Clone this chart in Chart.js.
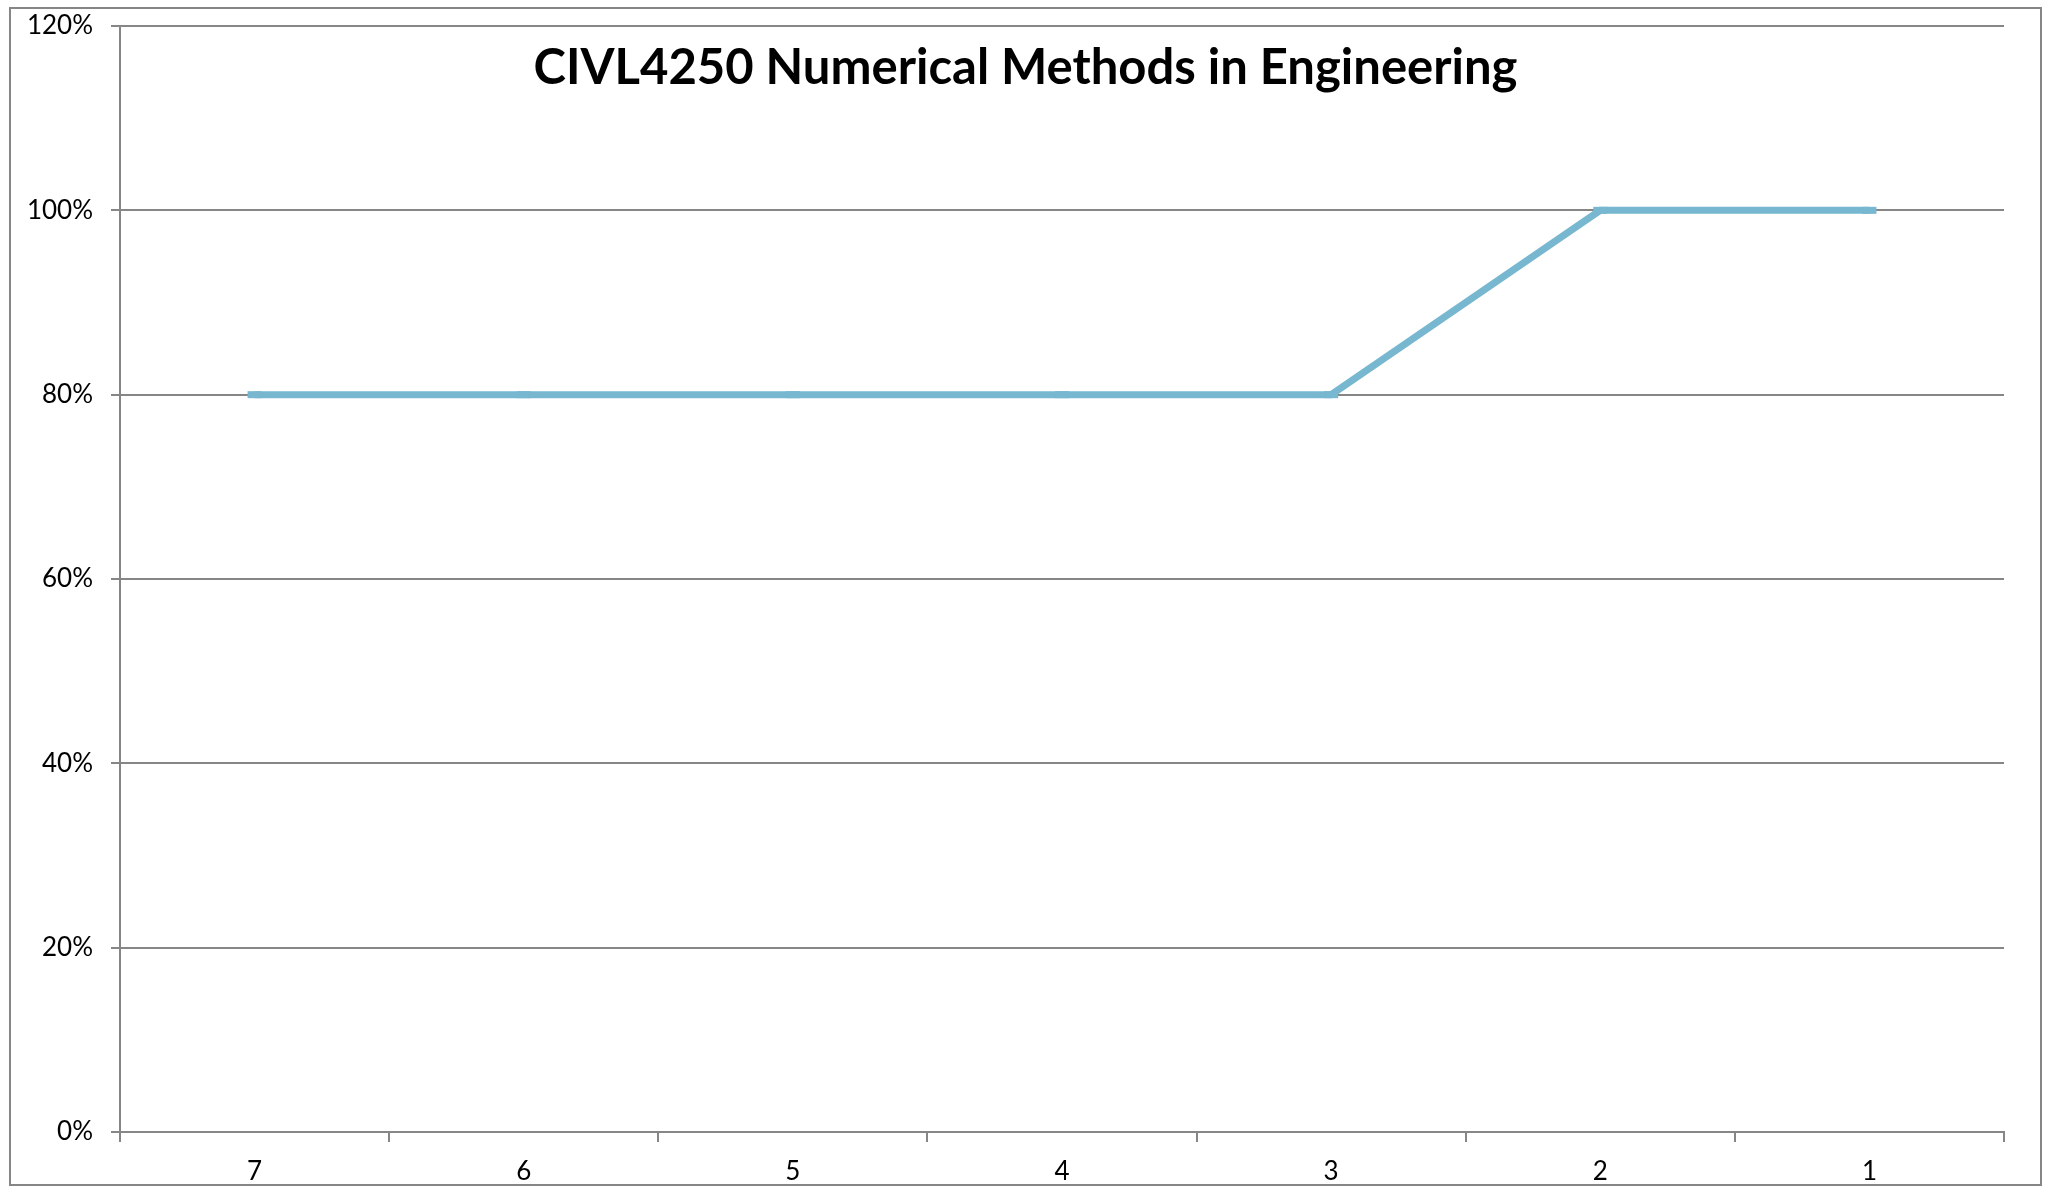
<!DOCTYPE html>
<html>
<head>
<meta charset="utf-8">
<style>
  html, body { margin: 0; padding: 0; background: #fff; }
  #wrap { width: 2051px; height: 1187px; position: relative; }
</style>
<script src="https://cdn.jsdelivr.net/npm/chart.js@4.4.1/dist/chart.umd.min.js"></script>
</head>
<body>
<div id="wrap"><canvas id="line-chart" width="2051" height="1187"></canvas></div>
<script>
// chart data
const chartTitle = 'CIVL4250 Numerical Methods in Engineering';
const categories = ['7', '6', '5', '4', '3', '2', '1'];
const scores = [80, 80, 80, 80, 80, 100, 100]; // percent
const yTicks = [0, 20, 40, 60, 80, 100, 120];

const gridGray = '#868686';
const lineBlue = '#77B7CF';

// outer frame + title drawn over the plot, like the Excel original
const framePlugin = {
    id: 'frameAndTitle',
    beforeDraw(chart) {
        const c = chart.ctx;
        c.save();
        c.fillStyle = '#fff';
        c.fillRect(0, 0, chart.width, chart.height);
        c.strokeStyle = gridGray;
        c.lineWidth = 2;
        c.strokeRect(10, 8, chart.width - 20, chart.height - 10);
        c.restore();
    },
    afterDraw(chart) {
        const c = chart.ctx;
        c.save();
        c.fillStyle = '#000';
        c.font = 'bold 49px Lato';
        c.textAlign = 'center';
        c.textBaseline = 'alphabetic';
        c.fillText(chartTitle, chart.width / 2, 84);
        c.restore();
    }
};

document.addEventListener('DOMContentLoaded', function () {
    const ctx = document.getElementById('line-chart').getContext('2d');

    new Chart(ctx, {
        type: 'line',
        data: {
            labels: categories,
            datasets: [{
                data: scores,
                borderColor: lineBlue,
                borderWidth: 7,
                tension: 0,
                pointStyle: 'line',
                pointRadius: 7,
                pointBorderWidth: 7,
                pointBorderColor: lineBlue,
                pointBackgroundColor: lineBlue
            }]
        },
        options: {
            responsive: false,
            animation: false,
            layout: { padding: { left: 0, top: 26, right: 47, bottom: 0 } },
            plugins: {
                legend: { display: false },
                title: { display: false },
                tooltip: { enabled: false }
            },
            scales: {
                x: {
                    offset: true,
                    grid: {
                        offset: true,
                        drawOnChartArea: false,
                        drawTicks: true,
                        tickLength: 10,
                        color: gridGray,
                        lineWidth: 2
                    },
                    border: { color: gridGray, width: 2 },
                    ticks: {
                        color: '#000',
                        font: { family: 'Lato', size: 26 },
                        padding: 14,
                        maxRotation: 0
                    },
                    afterFit: s => {
                        s.height = 55;
                        s.paddingLeft = 0;
                        s.paddingRight = 0;
                    }
                },
                y: {
                    min: 0,
                    max: 120,
                    afterBuildTicks: s => { s.ticks = yTicks.map(v => ({ value: v })); },
                    grid: {
                        color: gridGray,
                        lineWidth: 2,
                        tickLength: 9
                    },
                    border: { color: gridGray, width: 2 },
                    ticks: {
                        color: '#000',
                        font: { family: 'Lato', size: 26 },
                        padding: 18,
                        callback: v => v + '%'
                    },
                    afterFit: s => {
                        s.width = 120;
                        s.paddingTop = 0;
                        s.paddingBottom = 0;
                    }
                }
            }
        },
        plugins: [framePlugin]
    });
});
</script>
</body>
</html>
